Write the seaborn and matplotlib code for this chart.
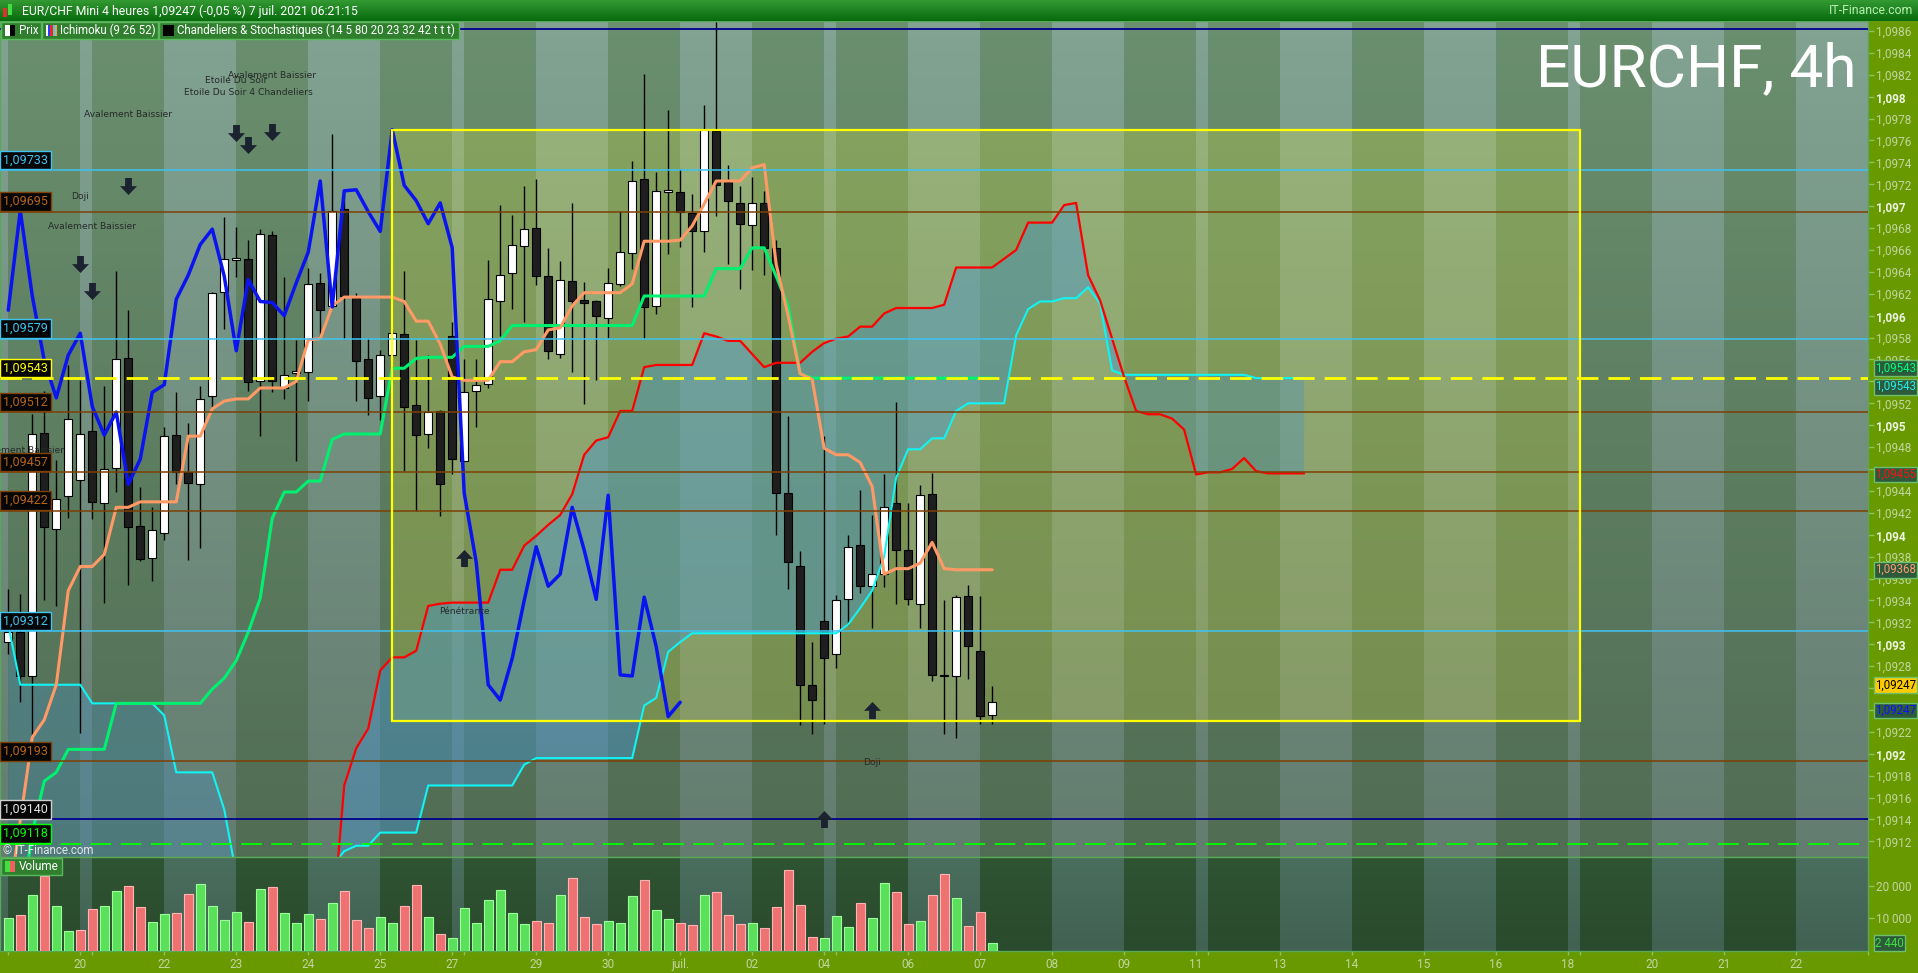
import numpy as np
import matplotlib
matplotlib.use("Agg")
import matplotlib.pyplot as plt
import seaborn as sns
from matplotlib.patches import Rectangle
from matplotlib.path import Path
from matplotlib.transforms import blended_transform_factory

sns.set_theme(style="dark")
plt.rcParams['font.family'] = ['Roboto', 'DejaVu Sans']
plt.rcParams['lines.scale_dashes'] = False

# ---- candles EUR/CHF 4h (index 0 = 18 juin 16h) ----
opens = [1.09302, 1.09311, 1.09271, 1.09493, 1.09405, 1.09435, 1.09450, 1.09495, 1.09429, 1.09461,
         1.09561, 1.09408, 1.09379, 1.09402, 1.09491, 1.09457, 1.09446, 1.09527, 1.09622, 1.09651,
         1.09652, 1.09540, 1.09674, 1.09534, 1.09548, 1.09549, 1.09630, 1.09609, 1.09697, 1.09616,
         1.09560, 1.09527, 1.09564, 1.09583, 1.09518, 1.09492, 1.09513, 1.09581, 1.09467, 1.09531,
         1.09538, 1.09613, 1.09639, 1.09664, 1.09680, 1.09636, 1.09565, 1.09632, 1.09614, 1.09613,
         1.09598, 1.09629, 1.09657, 1.09725, 1.09609, 1.09713, 1.09713, 1.09694, 1.09677, 1.09769,
         1.09722, 1.09703, 1.09683, 1.09703, 1.09662, 1.09438, 1.09371, 1.09263, 1.09321, 1.09291,
         1.09341, 1.09391, 1.09353, 1.09364, 1.09429, 1.09386, 1.09337, 1.09437, 1.09272, 1.09271,
         1.09344, 1.09294, 1.09235]
highs = [1.09350, 1.09346, 1.09510, 1.09531, 1.09468, 1.09555, 1.09541, 1.09519, 1.09536, 1.09641,
         1.09605, 1.09444, 1.09425, 1.09498, 1.09530, 1.09502, 1.09536, 1.09622, 1.09690, 1.09681,
         1.09669, 1.09679, 1.09677, 1.09635, 1.09578, 1.09644, 1.09639, 1.09766, 1.09716, 1.09621,
         1.09580, 1.09569, 1.09587, 1.09641, 1.09578, 1.09564, 1.09514, 1.09594, 1.09560, 1.09560,
         1.09651, 1.09701, 1.09692, 1.09718, 1.09725, 1.09662, 1.09650, 1.09703, 1.09631, 1.09614,
         1.09644, 1.09696, 1.09741, 1.09821, 1.09731, 1.09788, 1.09734, 1.09711, 1.09792, 1.09868,
         1.09738, 1.09718, 1.09727, 1.09714, 1.09669, 1.09508, 1.09385, 1.09302, 1.09490, 1.09345,
         1.09400, 1.09441, 1.09418, 1.09455, 1.09521, 1.09429, 1.09445, 1.09456, 1.09340, 1.09345,
         1.09354, 1.09344, 1.09262]
lows = [1.09291, 1.09247, 1.09214, 1.09340, 1.09335, 1.09415, 1.09219, 1.09414, 1.09338, 1.09439,
        1.09354, 1.09376, 1.09358, 1.09395, 1.09446, 1.09377, 1.09388, 1.09516, 1.09588, 1.09635,
        1.09531, 1.09490, 1.09530, 1.09524, 1.09467, 1.09522, 1.09579, 1.09608, 1.09579, 1.09522,
        1.09509, 1.09505, 1.09563, 1.09458, 1.09422, 1.09479, 1.09417, 1.09455, 1.09467, 1.09498,
        1.09534, 1.09581, 1.09606, 1.09594, 1.09628, 1.09560, 1.09561, 1.09549, 1.09519, 1.09541,
        1.09580, 1.09627, 1.09643, 1.09579, 1.09602, 1.09656, 1.09663, 1.09608, 1.09658, 1.09691,
        1.09647, 1.09624, 1.09642, 1.09637, 1.09400, 1.09350, 1.09226, 1.09218, 1.09227, 1.09278,
        1.09318, 1.09347, 1.09315, 1.09352, 1.09337, 1.09336, 1.09315, 1.09266, 1.09218, 1.09214,
        1.09268, 1.09227, 1.09227]
closes = [1.09311, 1.09271, 1.09492, 1.09407, 1.09433, 1.09506, 1.09492, 1.09430, 1.09460, 1.09560,
          1.09407, 1.09378, 1.09404, 1.09490, 1.09457, 1.09447, 1.09524, 1.09621, 1.09652, 1.09653,
          1.09539, 1.09675, 1.09540, 1.09546, 1.09549, 1.09629, 1.09605, 1.09696, 1.09618, 1.09559,
          1.09525, 1.09564, 1.09584, 1.09517, 1.09491, 1.09512, 1.09446, 1.09469, 1.09530, 1.09537,
          1.09615, 1.09637, 1.09665, 1.09679, 1.09636, 1.09568, 1.09633, 1.09613, 1.09612, 1.09600,
          1.09630, 1.09658, 1.09723, 1.09608, 1.09714, 1.09715, 1.09695, 1.09677, 1.09770, 1.09719,
          1.09705, 1.09684, 1.09703, 1.09662, 1.09438, 1.09375, 1.09263, 1.09249, 1.09287, 1.09340,
          1.09389, 1.09353, 1.09364, 1.09425, 1.09386, 1.09341, 1.09436, 1.09272, 1.09271, 1.09343,
          1.09298, 1.09234, 1.09247]
volumes = [10020, 10940, 17075, 22900, 13700, 6030, 6340, 12780, 13700, 18300,
           19840, 13390, 8790, 11250, 11550, 17380, 20450, 13700, 9400, 11860,
           8790, 18920, 19530, 11550, 8490, 11250, 9710, 14620, 18300, 9400,
           6950, 10330, 8490, 13700, 20140, 10330, 5110, 3890, 13090, 8490,
           15540, 18610, 11550, 8180, 9100, 8490, 17075, 22290, 10330, 8180,
           9100, 8490, 16770, 21680, 12470, 9710, 8490, 7870, 17075, 18000,
           10940, 8180, 8490, 6950, 13390, 24740, 14010, 4190, 3890, 10630,
           7260, 14620, 10020, 20760, 18000, 8180, 9100, 17075, 23520, 16160,
           7570, 11860, 2440]

# ---- Ichimoku (9 26 52) ----
tenkan = [1.09060, 1.09139, 1.09215, 1.09231, 1.09263, 1.09349, 1.09371, 1.09371, 1.09382, 1.09425,
          1.09425, 1.09430, 1.09430, 1.09430, 1.09430, 1.09490, 1.09490, 1.09515, 1.09522, 1.09524,
          1.09524, 1.09534, 1.09534, 1.09534, 1.09540, 1.09578, 1.09579, 1.09609, 1.09617, 1.09617,
          1.09617, 1.09617, 1.09617, 1.09613, 1.09595, 1.09595, 1.09574, 1.09544, 1.09541, 1.09541,
          1.09541, 1.09558, 1.09558, 1.09567, 1.09569, 1.09587, 1.09589, 1.09609, 1.09621, 1.09621,
          1.09621, 1.09621, 1.09629, 1.09668, 1.09668, 1.09668, 1.09669, 1.09682, 1.09702, 1.09723,
          1.09723, 1.09723, 1.09735, 1.09738, 1.09647, 1.09600, 1.09547, 1.09542, 1.09479, 1.09473,
          1.09473, 1.09466, 1.09444, 1.09364, 1.09369, 1.09369, 1.09374, 1.09393, 1.09369, 1.09368,
          1.09368, 1.09368, 1.09368]
kijun = [1.09040, 1.09050, 1.09128, 1.09175, 1.09183, 1.09204, 1.09204, 1.09204, 1.09204, 1.09246,
         1.09246, 1.09246, 1.09246, 1.09246, 1.09246, 1.09246, 1.09246, 1.09259, 1.09269, 1.09285,
         1.09311, 1.09342, 1.09415, 1.09439, 1.09439, 1.09449, 1.09449, 1.09487, 1.09492, 1.09492,
         1.09492, 1.09492, 1.09552, 1.09552, 1.09561, 1.09562, 1.09562, 1.09562, 1.09572, 1.09572,
         1.09572, 1.09577, 1.09591, 1.09591, 1.09591, 1.09591, 1.09591, 1.09591, 1.09591, 1.09591,
         1.09591, 1.09591, 1.09591, 1.09618, 1.09618, 1.09618, 1.09618, 1.09618, 1.09618, 1.09643,
         1.09643, 1.09643, 1.09662, 1.09662, 1.09636, 1.09609, 1.09547, 1.09543, 1.09543, 1.09543,
         1.09543, 1.09543, 1.09543, 1.09543, 1.09543, 1.09543, 1.09543, 1.09543, 1.09543, 1.09543,
         1.09543, 1.09543, 1.09543]
nan = np.nan
senkou_a = [nan, nan, nan, nan, nan, nan, nan, nan, nan, nan,
            nan, nan, nan, nan, nan, nan, nan, nan, nan, nan,
            nan, nan, nan, nan, nan, nan, nan, 1.09040, 1.09171, 1.09205,
            1.09223, 1.09276, 1.09288, 1.09288, 1.09294, 1.09335, 1.09337, 1.09338, 1.09338, 1.09338,
            1.09338, 1.09368, 1.09368, 1.09390, 1.09399, 1.09409, 1.09418, 1.09437, 1.09473, 1.09486,
            1.09489, 1.09513, 1.09513, 1.09553, 1.09555, 1.09555, 1.09555, 1.09555, 1.09584, 1.09581,
            1.09577, 1.09577, 1.09565, 1.09553, 1.09557, 1.09557, 1.09557, 1.09567, 1.09575, 1.09579,
            1.09581, 1.09590, 1.09590, 1.09602, 1.09607, 1.09607, 1.09607, 1.09607, 1.09610, 1.09644,
            1.09644, 1.09644, 1.09644, 1.09652, 1.09660, 1.09685, 1.09685, 1.09685, 1.09701, 1.09703,
            1.09637, 1.09614, 1.09579, 1.09544, 1.09513, 1.09510, 1.09510, 1.09506, 1.09496, 1.09455,
            1.09457, 1.09457, 1.09460, 1.09470, 1.09458, 1.09456, 1.09456, 1.09456, 1.09456]
senkou_b = [1.09318, 1.09263, 1.09263, 1.09263, 1.09263, 1.09263, 1.09263, 1.09246, 1.09246, 1.09246,
            1.09246, 1.09246, 1.09246, 1.09235, 1.09183, 1.09183, 1.09183, 1.09183, 1.09149, 1.09090,
            nan, nan, nan, nan, nan, nan, nan, 1.09098, 1.09111, 1.09116,
            1.09116, 1.09128, 1.09128, 1.09128, 1.09128, 1.09171, 1.09171, 1.09171, 1.09171, 1.09171,
            1.09171, 1.09171, 1.09171, 1.09190, 1.09196, 1.09196, 1.09196, 1.09196, 1.09196, 1.09196,
            1.09196, 1.09196, 1.09196, 1.09244, 1.09251, 1.09293, 1.09302, 1.09310, 1.09310, 1.09310,
            1.09310, 1.09310, 1.09310, 1.09310, 1.09310, 1.09310, 1.09310, 1.09310, 1.09310, 1.09310,
            1.09318, 1.09333, 1.09349, 1.09380, 1.09452, 1.09478, 1.09478, 1.09488, 1.09488, 1.09513,
            1.09520, 1.09520, 1.09520, 1.09520, 1.09582, 1.09606, 1.09613, 1.09613, 1.09616, 1.09616,
            1.09626, 1.09611, 1.09550, 1.09546, 1.09546, 1.09546, 1.09546, 1.09546, 1.09546, 1.09546,
            1.09546, 1.09546, 1.09546, 1.09546, 1.09543, 1.09543, 1.09543, 1.09543, 1.09543]
chikou_shift = 26

# ---- niveaux horizontaux ----
levels = [1.09862, 1.09733, 1.09695, 1.09579, 1.09543, 1.09512, 1.09457, 1.09422, 1.09312, 1.09193, 1.09140, 1.09118]
level_kind = ['navy', 'blue', 'brown', 'blue', 'yellow', 'brown', 'brown', 'brown', 'blue', 'brown', 'navy', 'green']

# ---- figures de chandeliers ----
pat_text = ["Avalement Baissier", "Etoile Du Soir", "Avalement Baissier", "Etoile Du Soir 4 Chandeliers",
            "Doji", "Avalement Baissier", "Avalement Baissier", "Pénétrante", "Doji"]
pat_x = [10, 19, 22, 20, 6, 7, 1, 38, 72]
pat_y = [1.09784, 1.09815, 1.09819, 1.09804, 1.09709, 1.09681, 1.09477, 1.09330, 1.09192]
arrow_x = [19, 20, 22, 10, 6, 7, 1, 38, 72, 68]
arrow_y = [1.09767, 1.09756, 1.09768, 1.09718, 1.09647, 1.09623, 1.09431, 1.09379, 1.09240, 1.09140]
arrow_up = [False, False, False, False, False, False, False, True, True, True]

# ---- jours (debut de chaque journee en index de bougie) ----
day_starts = [0, 6, 7, 13, 19, 25, 31, 37, 38, 44, 50, 56, 62, 68, 69, 75, 81, 87, 93, 99, 100,
              106, 112, 118, 124, 130, 131, 137, 143, 149, 155]
day_labels = ['', '20', '', '22', '23', '24', '25', '27', '', '29', '30', 'juil.', '02', '04', '', '06',
              '07', '08', '09', '11', '', '13', '14', '15', '16', '18', '', '20', '21', '22', '']

# rectangle jaune (index debut, index fin, prix bas, prix haut)
zone = (32, 131, 1.09230, 1.09770)

# etiquettes axe de droite
tag_values = [1.09543, 1.09543, 1.09455, 1.09368, 1.09247, 1.09247]
tag_texts = ['1,09543', '1,09543', '1,09455', '1,09368', '1,09247', '1,09247']
# graduations masquees par les etiquettes
hidden_ticks = [1.0954, 1.0946, 1.0926, 1.0924]

W, H, DPI = 1918, 973, 100
X0, X1 = -0.69, 154.33
Y0, Y1 = 1.091057, 1.098691
VMAX = 28834


def frac(x0, y0, x1, y1):
    return [x0 / W, 1 - y1 / H, (x1 - x0) / W, (y1 - y0) / H]


fig = plt.figure(figsize=(W / DPI, H / DPI), dpi=DPI, facecolor='#689a00')
ax = fig.add_axes(frac(0, 21, 1868, 857))
axv = fig.add_axes(frac(0, 857, 1868, 951), sharex=ax)

idx = np.arange(len(closes))
o = np.array(opens); c = np.array(closes); hi = np.array(highs); lo = np.array(lows)

# bandes jour / nuit
for k in range(len(day_starts) - 1):
    light = k % 2 == 1
    ax.axvspan(day_starts[k], day_starts[k + 1], color='#82a392' if light else '#6a8f6e', lw=0, zorder=0)
    axv.axvspan(day_starts[k], day_starts[k + 1], color='#4a6e5e' if light else '#2f5432', lw=0, zorder=0)
ax.axvspan(-2, day_starts[0], color='#82a392', lw=0, zorder=0)
axv.axvspan(-2, day_starts[0], color='#4a6e5e', lw=0, zorder=0)

shade = np.zeros((256, 1, 4))
shade[..., 3] = np.linspace(0, 0.24, 256)[:, None]
ax.imshow(shade, extent=(0, 1, 0, 1), transform=ax.transAxes, aspect='auto', zorder=0.5)
shade_v = np.zeros((64, 1, 4))
shade_v[..., 3] = np.linspace(0, 0.12, 64)[:, None]
axv.imshow(shade_v, extent=(0, 1, 0, 1), transform=axv.transAxes, aspect='auto', zorder=0.5)

# zone jaune
ax.add_patch(Rectangle((zone[0], zone[2]), zone[1] - zone[0], zone[3] - zone[2],
                       fc='#ffff30', alpha=0.2, lw=0, zorder=1.1))
ax.add_patch(Rectangle((zone[0], zone[2]), zone[1] - zone[0], zone[3] - zone[2],
                       fill=False, ec='#ffff00', lw=1.6, zorder=4.6))

# nuage ichimoku
sa = np.array(senkou_a); sb = np.array(senkou_b)
xs = np.arange(len(sa))
sa_f = np.where(np.isnan(sa), Y0 - 0.0005, sa)
sb_f = np.where(np.isnan(sb), Y0 - 0.0005, sb)
ax.fill_between(xs, sa_f, sb_f, where=sa_f >= sb_f, interpolate=True, color='#4496d4', alpha=0.42, lw=0, zorder=1.3)
ax.fill_between(xs, sa_f, sb_f, where=sa_f < sb_f, interpolate=True, color='#4a90c0', alpha=0.36, lw=0, zorder=1.3)

# bougies
ax.vlines(idx, lo, hi, color='black', lw=1.0, zorder=3)
up = c >= o
body_h = np.maximum(np.abs(c - o), 0.000012)
ax.bar(idx, body_h, bottom=np.minimum(o, c), width=0.68,
       color=np.where(up, '#ffffff', '#1e1e1e'), edgecolor='black', lw=0.8, zorder=3.5)

# lignes ichimoku
sns.lineplot(x=xs, y=sb, ax=ax, color='#10f4f4', linewidth=1.5, sort=False, estimator=None, legend=False, zorder=3.8)
sns.lineplot(x=xs, y=sa, ax=ax, color='#ff0000', linewidth=1.6, sort=False, estimator=None, legend=False, zorder=3.8)
sns.lineplot(x=idx, y=kijun, ax=ax, color='#00f070', linewidth=2.2, sort=False, estimator=None, legend=False, zorder=3.9)
sns.lineplot(x=idx, y=tenkan, ax=ax, color='#ff9966', linewidth=2.2, sort=False, estimator=None, legend=False, zorder=3.9)
sns.lineplot(x=idx[:-chikou_shift], y=c[chikou_shift:], ax=ax, color='#0a14f0', linewidth=2.5,
             sort=False, estimator=None, legend=False, zorder=4)

# niveaux
line_style = {
    'blue': dict(color='#3ec3f3', lw=1.1, ls='-'),
    'brown': dict(color='#7e4005', lw=1.1, ls='-'),
    'navy': dict(color='#00008f', lw=1.3, ls='-'),
    'yellow': dict(color='#ffff00', lw=2.0, ls=(0, (15.5, 7.2))),
    'green': dict(color='#00ff00', lw=1.3, ls=(0, (15, 6.7))),
}
label_style = {
    'blue': ('#3ec3f3', '#3ec3f3'),
    'brown': ('#b86414', '#7e4005'),
    'navy': ('#e6e6e6', '#d0d0d0'),
    'yellow': ('#ffff00', '#ffff00'),
    'green': ('#00ff00', '#00ff00'),
}
blend = blended_transform_factory(ax.transAxes, ax.transData)
for k, (lvl, kind) in enumerate(zip(levels, level_kind)):
    ax.axhline(lvl, zorder=4.2, **line_style[kind])
    if k == 0:
        continue
    tc, ec = label_style[kind]
    ax.annotate(f"{lvl:.5f}".replace('.', ','), xy=(0, lvl), xycoords=blend, xytext=(2.2, 2.6),
                textcoords='offset points', ha='left', va='bottom', fontsize=9, color=tc,
                bbox=dict(boxstyle='square,pad=0.22', fc='#050505', ec=ec, lw=1), zorder=7,
                annotation_clip=False)

# figures de chandeliers
for t, x, y in zip(pat_text, pat_x, pat_y):
    ax.text(x, y, t, ha='center', va='center', fontsize=6.6, color='#262a2a',
            family=['DejaVu Sans'], zorder=6, clip_on=True)
down_path = Path([(-0.2, 0.5), (0.2, 0.5), (0.2, 0.02), (0.5, 0.02), (0.0, -0.5), (-0.5, 0.02),
                  (-0.2, 0.02), (-0.2, 0.5)],
                 [Path.MOVETO] + [Path.LINETO] * 6 + [Path.CLOSEPOLY])
up_path = Path(down_path.vertices * np.array([1, -1]), down_path.codes)
ax_arr = np.array(arrow_up)
ax.scatter(np.array(arrow_x)[~ax_arr], np.array(arrow_y)[~ax_arr], marker=down_path, s=150,
           color='#1b2230', lw=0, zorder=6)
ax.scatter(np.array(arrow_x)[ax_arr], np.array(arrow_y)[ax_arr], marker=up_path, s=150,
           color='#1b2230', lw=0, zorder=6)

# volumes
vol_up = np.r_[True, np.diff(c) > 0]
axv.bar(idx, volumes, width=0.76, color=np.where(vol_up, '#5ae05a', '#ee7272'),
        edgecolor=np.where(vol_up, '#9cff9c', '#ffb4b4'), lw=0.8, zorder=3)

# axes
ax.set_xlim(X0, X1)
ax.set_ylim(Y0, Y1)
axv.set_ylim(0, VMAX)
for a in (ax, axv):
    a.set_facecolor('#6a8f6e')
    a.grid(False)
    for s in a.spines.values():
        s.set_color('#58a858')
        s.set_linewidth(1)
    a.yaxis.tick_right()
    a.tick_params(axis='y', which='both', direction='out', length=4, width=1, color='#8cc060',
                  labelcolor='#c2d4a2', labelsize=8.5, pad=2, left=False, right=True)

yt = np.round(np.arange(1.0912, 1.09861, 0.0002), 4)
ylabels = ['' if any(abs(v - h) < 1e-7 for h in hidden_ticks) else f"{v:.4f}".rstrip('0').replace('.', ',')
           for v in yt]
ax.set_yticks(yt, ylabels)
for v, lbl in zip(yt, ax.get_yticklabels()):
    if abs(round(v * 1000) - v * 1000) < 1e-6:
        lbl.set_color('#eef4e2')
        lbl.set_fontweight('bold')
ax.tick_params(axis='x', bottom=False, labelbottom=False)
axv.set_yticks([10000, 20000], ['10 000', '20 000'])
axv.set_xticks(day_starts, day_labels)
axv.tick_params(axis='x', direction='out', length=3, width=1, color='#8cc060', labelcolor='#c2d4a2',
                labelsize=8.5, pad=2, bottom=True)

# etiquettes a droite
tag_style = [('#00ff7a', '#2c5a3a', 7.2), ('#20f0f0', '#2c5a3a', -6.2), ('#ff1010', '#2c5a3a', 0),
             ('#ff9a70', '#2c5a3a', 0), ('#000000', '#ffcc00', 12.2), ('#1010ff', '#2c5a3a', -6)]
for v, t, (tc, fc, dy) in zip(tag_values, tag_texts, tag_style):
    ax.annotate(t, xy=(1, v), xycoords=blend, xytext=(5, dy), textcoords='offset points',
                ha='left', va='center', fontsize=8.3, color=tc, zorder=8, annotation_clip=False,
                bbox=dict(boxstyle='square,pad=0.12', fc=fc, ec='#6cc06c', lw=1))
blend_v = blended_transform_factory(axv.transAxes, axv.transData)
axv.annotate(f"{volumes[-1]:,}".replace(',', ' '), xy=(1, volumes[-1]), xycoords=blend_v, xytext=(5, 0),
             textcoords='offset points', ha='left', va='center', fontsize=8.3, color='#40e040', zorder=8,
             annotation_clip=False, bbox=dict(boxstyle='square,pad=0.12', fc='#2c5a3a', ec='#6cc06c', lw=1))

# ---- habillage plateforme ----
ui = fig.add_axes([0, 0, 1, 1], zorder=20)
ui.patch.set_alpha(0)
ui.axis('off')
head = np.zeros((32, 1, 3))
head[:, 0, :] = np.linspace([0.20, 0.60, 0.20], [0.03, 0.42, 0.05], 32)
ui.imshow(head, extent=(0, W, 21, 0), aspect='auto', zorder=1)
ui.add_patch(Rectangle((3, 8), 4, 9, fc='#e03030', lw=0, zorder=2))
ui.add_patch(Rectangle((8, 4), 4, 11, fc='#40e040', lw=0, zorder=2))
ui.text(22, 11, "EUR/CHF Mini 4 heures 1,09247 (-0,05 %) 7 juil. 2021 06:21:15", ha='left', va='center',
        fontsize=8.8, color='white', zorder=3)
ui.text(1913, 11, "IT-Finance.com", ha='right', va='center', fontsize=8.8, color='#b8f0b0', zorder=3)

legend_boxes = [(1, 41, "Prix"), (42, 158, "Ichimoku (9 26 52)"),
                (159, 459, "Chandeliers & Stochastiques (14 5 80 20 23 32 42 t t t)")]
for x0, x1, t in legend_boxes:
    ui.add_patch(Rectangle((x0, 22), x1 - x0, 17, fc='#2f7f2f', ec='#5cb85c', lw=1, zorder=2))
    ui.text(x0 + 18, 30.5, t, ha='left', va='center', fontsize=8.3, color='white', zorder=3)
ui.add_patch(Rectangle((5, 25), 5, 11, fc='white', lw=0, zorder=3))
ui.add_patch(Rectangle((10, 25), 5, 11, fc='black', lw=0, zorder=3))
for j, col in enumerate(['#ffffff', '#2040ff', '#ff2020', '#20e0e0', '#ff9966']):
    ui.add_patch(Rectangle((46 + j * 2.2, 25), 2.2, 11, fc=col, lw=0, zorder=3))
ui.add_patch(Rectangle((163, 25), 11, 11, fc='black', lw=0, zorder=3))

ui.add_patch(Rectangle((1, 858), 61, 17, fc='#2f7f2f', ec='#5cb85c', lw=1, zorder=2))
ui.add_patch(Rectangle((5, 861), 5, 11, fc='#40e040', lw=0, zorder=3))
ui.add_patch(Rectangle((10, 861), 5, 11, fc='#f06060', lw=0, zorder=3))
ui.text(19, 866.5, "Volume", ha='left', va='center', fontsize=8.5, color='white', zorder=3)
ui.text(3, 850, "© IT-Finance.com", ha='left', va='center', fontsize=8.3, color='#e4e4e4', zorder=3)

ui.text(1857, 86, "EURCHF, 4h", ha='right', va='baseline', fontsize=43.5, color='white', zorder=3)
ui.set_xlim(0, W)
ui.set_ylim(H, 0)

fig.savefig("out.png", dpi=DPI, facecolor=fig.get_facecolor())
